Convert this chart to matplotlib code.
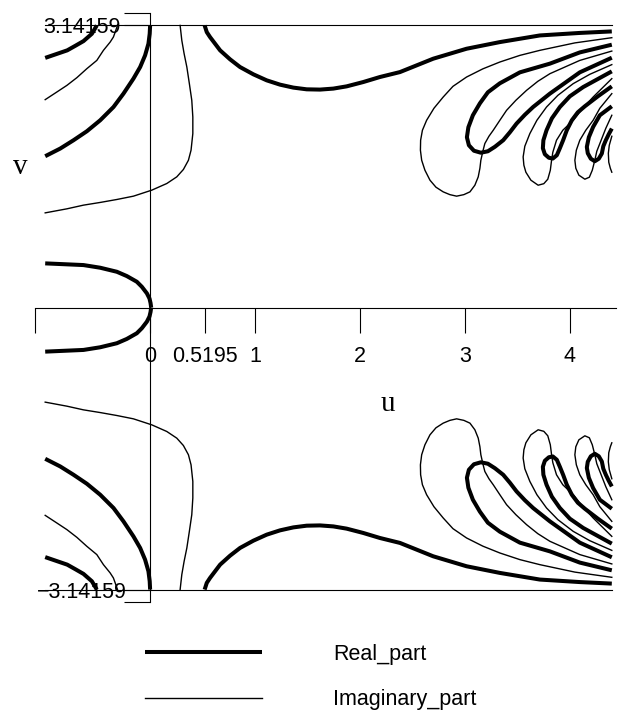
import numpy as np
import matplotlib
matplotlib.use('Agg')
import matplotlib.pyplot as plt

plt.rcParams['font.family'] = ['Liberation Sans', 'DejaVu Sans']

# Real_part = 0 (thick)
re_a_u = [-1.0, -0.79, -0.714, -0.635, -0.555, -0.508]
re_a_v = [2.78, 2.864, 2.914, 2.967, 3.049, 3.1416]
re_b_u = [-1.0, -0.857, -0.73, -0.603, -0.476, -0.349, -0.254, -0.159, -0.095, -0.048,
          -0.016, -0.004, 0.0]
re_b_v = [1.685, 1.77, 1.863, 1.963, 2.085, 2.233, 2.382, 2.549, 2.678, 2.808,
          2.938, 3.049, 3.1416]
re_c_u = [-1.0, -0.635, -0.476, -0.317, -0.222, -0.127, -0.079, -0.031, -0.006, 0.004, 0.01]
re_c_v = [0.4915, 0.4726, 0.443, 0.398, 0.35, 0.287, 0.231, 0.158, 0.1, 0.05, 0.0]
re_d_u = [0.5195, 0.54, 0.571, 0.619, 0.667, 0.762, 0.857, 0.984, 1.111, 1.238, 1.365,
          1.492, 1.619, 1.746, 1.873, 2.031, 2.19, 2.381, 2.698, 3.016, 3.333, 3.714,
          4.095, 4.4]
re_d_v = [3.1416, 3.067, 3.012, 2.938, 2.864, 2.764, 2.678, 2.597, 2.53, 2.482, 2.449,
          2.43, 2.427, 2.438, 2.463, 2.511, 2.567, 2.622, 2.771, 2.882, 2.956, 3.03,
          3.058, 3.075]
re_e_u = [4.4, 4.095, 3.81, 3.524, 3.333, 3.219, 3.143, 3.076, 3.033, 3.019, 3.038, 3.086,
          3.152, 3.219, 3.286, 3.365, 3.429, 3.492, 3.571, 3.65, 3.81, 4.095, 4.4]
re_e_v = [2.927, 2.841, 2.716, 2.619, 2.497, 2.397, 2.274, 2.141, 2.007, 1.896, 1.807, 1.746,
          1.724, 1.74, 1.79, 1.863, 1.952, 2.048, 2.146, 2.233, 2.382, 2.619, 2.782]
re_f_u = [4.4, 4.127, 4.0, 3.905, 3.829, 3.778, 3.748, 3.743, 3.762, 3.8, 3.838, 3.876,
          3.905, 3.936, 3.971, 4.019, 4.076, 4.143, 4.267, 4.4]
re_f_v = [2.63, 2.455, 2.352, 2.233, 2.107, 1.974, 1.863, 1.774, 1.707, 1.668, 1.659, 1.696,
          1.774, 1.863, 1.974, 2.085, 2.174, 2.241, 2.352, 2.463]
re_g_u = [4.4, 4.286, 4.222, 4.181, 4.162, 4.171, 4.2, 4.238, 4.276, 4.305, 4.319, 4.343,
          4.371, 4.4]
re_g_v = [2.241, 2.141, 2.011, 1.896, 1.788, 1.718, 1.657, 1.629, 1.657, 1.715, 1.796, 1.863,
          1.93, 1.993]

# Imaginary_part = 0 (thin)
im_a_u = [-1.0, -0.889, -0.793, -0.698, -0.603, -0.508, -0.445, -0.381, -0.35, -0.333, -0.311]
im_a_v = [2.315, 2.4, 2.474, 2.56, 2.66, 2.752, 2.864, 2.956, 3.012, 3.067, 3.1416]
im_b_u = [-1.0, -0.793, -0.635, -0.476, -0.317, -0.159, 0.016, 0.159, 0.254, 0.317, 0.365,
          0.39, 0.407, 0.407, 0.397, 0.374, 0.35, 0.324, 0.302, 0.286]
im_b_v = [1.054, 1.099, 1.14, 1.17, 1.203, 1.24, 1.307, 1.381, 1.455, 1.537, 1.64,
          1.752, 1.937, 2.122, 2.308, 2.493, 2.678, 2.827, 2.975, 3.1416]
im_c_u = [4.4, 4.048, 3.714, 3.524, 3.333, 3.171, 3.016, 2.886, 2.793, 2.705, 2.635, 2.595,
          2.578, 2.576, 2.588, 2.619, 2.667, 2.724, 2.793, 2.857, 2.921, 2.99, 3.048, 3.095,
          3.127, 3.143, 3.152, 3.171, 3.19, 3.229, 3.27, 3.333, 3.397, 3.486, 3.588, 3.695,
          3.81, 4.095, 4.4]
im_c_v = [3.005, 2.947, 2.864, 2.808, 2.734, 2.658, 2.567, 2.463, 2.344, 2.219, 2.085, 1.974,
          1.863, 1.752, 1.64, 1.529, 1.418, 1.34, 1.288, 1.257, 1.24, 1.257, 1.288, 1.362,
          1.455, 1.551, 1.64, 1.74, 1.826, 1.907, 1.974, 2.085, 2.196, 2.308, 2.419, 2.519,
          2.604, 2.752, 2.856]
im_d_u = [4.4, 4.19, 4.032, 3.886, 3.778, 3.686, 3.619, 3.571, 3.555, 3.562, 3.581, 3.629,
          3.698, 3.752, 3.79, 3.814, 3.826, 3.838, 3.873, 3.933, 4.032, 4.124, 4.222, 4.4]
im_d_v = [2.705, 2.597, 2.493, 2.363, 2.233, 2.085, 1.937, 1.796, 1.677, 1.585, 1.507, 1.418,
          1.362, 1.379, 1.429, 1.529, 1.64, 1.729, 1.863, 1.974, 2.085, 2.219, 2.344, 2.549]
im_e_u = [4.4, 4.286, 4.222, 4.152, 4.095, 4.062, 4.048, 4.057, 4.086, 4.143, 4.186, 4.214,
          4.238, 4.257, 4.286, 4.343, 4.4]
im_e_v = [2.382, 2.219, 2.085, 1.974, 1.863, 1.752, 1.64, 1.551, 1.474, 1.429, 1.451, 1.529,
          1.64, 1.74, 1.826, 1.996, 2.141]
im_f_u = [4.4, 4.376, 4.367, 4.371, 4.386, 4.4]
im_f_v = [1.907, 1.807, 1.718, 1.618, 1.551, 1.507]

# strip edges v = +-pi
edge_u = [-1.0, 4.4]
edge_v = [np.pi, np.pi]

x_ticks = [-1.1, 0, 0.5195, 1, 2, 3, 4]
x_labels = ['', '0', '0.5195', '1', '2', '3', '4']
y_ticks = [-3.28, -np.pi, np.pi, 3.28]
y_labels = ['', '\u22123.14159', '3.14159', '']

re_curves = [(re_a_u, re_a_v), (re_b_u, re_b_v), (re_c_u, re_c_v), (re_d_u, re_d_v),
             (re_e_u, re_e_v), (re_f_u, re_f_v), (re_g_u, re_g_v)]
im_curves = [(im_a_u, im_a_v), (im_b_u, im_b_v), (im_c_u, im_c_v), (im_d_u, im_d_v),
             (im_e_u, im_e_v), (im_f_u, im_f_v)]

W, H = 619, 714
fig = plt.figure(figsize=(W / 100, H / 100), dpi=100)
ax = fig.add_axes([34.7 / W, 1 - 602 / H, (616 - 34.7) / W, (602 - 13) / H])
ax.set_xlim(-1.1, 4.44)
ax.set_ylim(-3.28, 3.28)

for sign in (1, -1):
    ax.plot(edge_u, sign * np.array(edge_v), color='black', lw=0.8)

kw_re = dict(color='black', lw=2.9, solid_joinstyle='round', solid_capstyle='butt')
kw_im = dict(color='black', lw=1.0, solid_joinstyle='round')
for u, v in re_curves:
    real_line, = ax.plot(u, v, **kw_re)
    ax.plot(u, -np.array(v), **kw_re)
for u, v in im_curves:
    imag_line, = ax.plot(u, v, **kw_im)
    ax.plot(u, -np.array(v), **kw_im)

for side in ('top', 'right'):
    ax.spines[side].set_visible(False)
for side in ('left', 'bottom'):
    ax.spines[side].set_position(('data', 0))
    ax.spines[side].set_linewidth(0.8)

ax.set_xticks(x_ticks)
ax.set_xticklabels(x_labels)
ax.set_yticks(y_ticks)
ax.set_yticklabels(y_labels)
ax.tick_params(axis='x', direction='out', length=18, width=0.8, pad=9.6, labelsize=15.5)
ax.tick_params(axis='y', direction='out', length=18.7, width=0.8, pad=30.2, labelsize=15.5)
for lab in ax.get_yticklabels():
    lab.set_horizontalalignment('center')

fig.text(20.3 / W, 1 - 167 / H, 'v', family='Liberation Serif', size=21, ha='center', va='center')
fig.text(388 / W, 1 - 404 / H, 'u', family='Liberation Serif', size=21, ha='center', va='center')

fig.legend([real_line, imag_line], ['Real_part', 'Imaginary_part'], loc='upper left',
           bbox_to_anchor=(145 / W, 1 - 644 / H), frameon=False, fontsize=15.5,
           handlelength=5.44, handletextpad=3.3, labelspacing=1.135,
           borderpad=0, borderaxespad=0)

fig.savefig('out.png', dpi=100)
